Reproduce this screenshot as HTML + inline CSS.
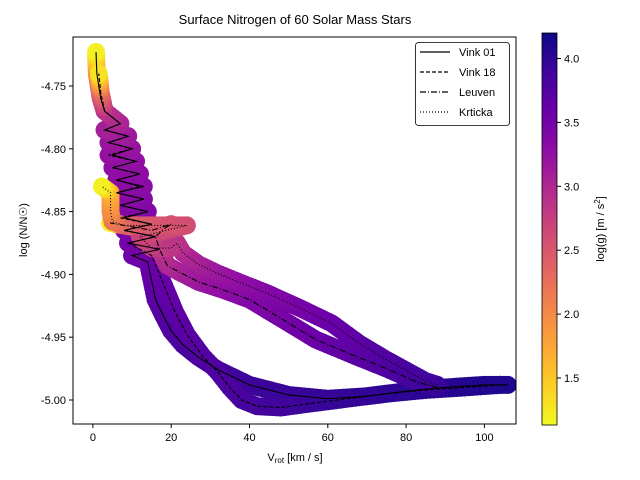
<!DOCTYPE html>
<html><head><meta charset="utf-8"><style>
html,body{margin:0;padding:0;background:#fff;}
svg{display:block;font-family:"Liberation Sans",sans-serif;}
</style></head><body>
<svg id="chart" width="640" height="480" xmlns="http://www.w3.org/2000/svg">
<defs>
<linearGradient id="cbar" x1="0" y1="1" x2="0" y2="0">
<stop offset="0" stop-color="#f0f921"/><stop offset="0.1" stop-color="#fcce25"/><stop offset="0.2" stop-color="#fca636"/><stop offset="0.3" stop-color="#f2844b"/><stop offset="0.4" stop-color="#e16462"/><stop offset="0.5" stop-color="#cc4778"/><stop offset="0.6" stop-color="#b12a90"/><stop offset="0.7" stop-color="#8f0da4"/><stop offset="0.8" stop-color="#6a00a8"/><stop offset="0.9" stop-color="#41049d"/><stop offset="1" stop-color="#0d0887"/>
</linearGradient>
<clipPath id="pclip"><rect x="73" y="37" width="443" height="387"/></clipPath>
</defs>
<text x="295" y="24" text-anchor="middle" font-size="13">Surface Nitrogen of 60 Solar Mass Stars</text>
<g id="marks" clip-path="url(#pclip)"></g>
<g id="lines" clip-path="url(#pclip)"></g>
<rect x="73" y="37" width="443" height="387" fill="none" stroke="#000" stroke-width="1"/>
<g id="axes"></g>
<text x="295" y="461" text-anchor="middle" font-size="11">V<tspan font-size="8" dy="2">rot</tspan><tspan dy="-2"> [km / s]</tspan></text>
<text transform="translate(27,230) rotate(-90)" text-anchor="middle" font-size="11">log (N/N☉)</text>
<g>
<rect x="415.5" y="42.5" width="94" height="83" rx="3" fill="#fff" stroke="#000" stroke-width="0.8"/>
<line x1="420" y1="52" x2="450" y2="52" stroke="#000" stroke-width="1.3"/>
<text x="459" y="56" font-size="11">Vink 01</text>
<line x1="420" y1="72" x2="450" y2="72" stroke="#000" stroke-width="1.3" stroke-dasharray="4,2"/>
<text x="459" y="76" font-size="11">Vink 18</text>
<line x1="420" y1="92" x2="450" y2="92" stroke="#000" stroke-width="1.3" stroke-dasharray="6,2,1,2"/>
<text x="459" y="96" font-size="11">Leuven</text>
<line x1="420" y1="112" x2="450" y2="112" stroke="#000" stroke-width="1.3" stroke-dasharray="1,2"/>
<text x="459" y="116" font-size="11">Krticka</text>
</g>
<rect x="542" y="33" width="15" height="392" fill="url(#cbar)" stroke="#000" stroke-width="0.8"/>
<g id="cbticks"></g>
<text transform="translate(604,229) rotate(-90)" text-anchor="middle" font-size="11">log(g) [m / s<tspan font-size="8" dy="-4">2</tspan><tspan dy="4">]</tspan></text>
</svg>
<script>
const xTicks=[0,20,40,60,80,100];
const yTicks=[-4.75,-4.80,-4.85,-4.90,-4.95,-5.00];
const cTicks=[1.5,2.0,2.5,3.0,3.5,4.0];
const v01V=[106,100,90,80,70,60,50,40,32,27,23,20,18,16,15,14,10,17,9,16,8,15,8,14,7,13,6,13,6,12,5,11,5,10,4,9,3,7,3,2,1.5,1,0.8];
const v01N=[-4.988,-4.988,-4.99,-4.993,-4.997,-4.999,-4.996,-4.988,-4.976,-4.966,-4.956,-4.945,-4.933,-4.92,-4.905,-4.89,-4.885,-4.88,-4.875,-4.87,-4.865,-4.86,-4.855,-4.85,-4.845,-4.84,-4.835,-4.83,-4.825,-4.82,-4.815,-4.81,-4.805,-4.8,-4.795,-4.79,-4.785,-4.78,-4.77,-4.76,-4.75,-4.74,-4.723];
const v01G=[4.1,4.08,4.05,4.02,4.0,3.98,3.95,3.92,3.88,3.85,3.82,3.78,3.75,3.7,3.65,3.6,3.55,3.53,3.5,3.48,3.46,3.44,3.42,3.4,3.38,3.36,3.34,3.32,3.3,3.3,3.28,3.26,3.24,3.22,3.2,3.15,3.1,3.05,2.9,2.6,2.3,2.0,1.2];
const v18V=[104,95,85,75,65,55,48,42,38,35,32,28,24,21,19,17,15,9,16,8,15,7,14,7,13,6,12,6,12,5,11,4,10,4,9,3,7,3,2,1.5];
const v18N=[-4.988,-4.99,-4.992,-4.995,-4.999,-5.003,-5.006,-5.005,-5.0,-4.99,-4.978,-4.965,-4.948,-4.93,-4.915,-4.9,-4.885,-4.875,-4.87,-4.865,-4.86,-4.855,-4.85,-4.845,-4.84,-4.835,-4.83,-4.825,-4.82,-4.815,-4.81,-4.805,-4.8,-4.795,-4.79,-4.785,-4.78,-4.77,-4.755,-4.74];
const v18G=[4.1,4.07,4.04,4.0,3.97,3.94,3.9,3.88,3.85,3.82,3.8,3.76,3.72,3.68,3.64,3.6,3.55,3.5,3.48,3.46,3.44,3.42,3.4,3.38,3.36,3.34,3.32,3.3,3.3,3.28,3.26,3.24,3.22,3.2,3.15,3.1,3.05,2.9,2.3,1.3];
const leuV=[88,83,75,67,57,48,40,33,27,22,19,17,16,18,20,15,10,6,4.4];
const leuN=[-4.99,-4.986,-4.975,-4.965,-4.952,-4.935,-4.92,-4.912,-4.906,-4.898,-4.893,-4.88,-4.87,-4.864,-4.86,-4.865,-4.862,-4.86,-4.859];
const leuG=[3.95,3.9,3.8,3.7,3.6,3.5,3.4,3.3,3.2,3.1,3.0,2.9,2.8,2.6,2.5,2.3,2.1,1.8,1.2];
const krtV=[88,85,75,68,61,53,44.5,38,31.7,27,23,21.5,20,15,12,24,15,8,5,4.5,4.5,2.3];
const krtN=[-4.988,-4.985,-4.968,-4.955,-4.939,-4.927,-4.915,-4.907,-4.899,-4.892,-4.883,-4.875,-4.879,-4.879,-4.87,-4.861,-4.861,-4.861,-4.858,-4.85,-4.835,-4.83];
const krtG=[3.95,3.9,3.8,3.7,3.6,3.5,3.4,3.3,3.2,3.1,3.0,2.9,2.85,2.8,2.7,2.6,2.5,2.4,2.2,2.0,1.7,1.2];

const NS="http://www.w3.org/2000/svg";
const sx=v=>92.9+v*3.915;
const sy=n=>400+(-5.0-n)*1256;
const cy=g=>378-(g-1.5)*127.8;
const stops=["#0d0887","#41049d","#6a00a8","#8f0da4","#b12a90","#cc4778","#e16462","#f2844b","#fca636","#fcce25","#f0f921"];
function hx(c){return [1,3,5].map(i=>parseInt(c.substr(i,2),16));}
function cmap(g){let t=(4.2-g)/3.07;t=Math.max(0,Math.min(1,t))*10;const i=Math.min(9,Math.floor(t)),f=t-i;const a=hx(stops[i]),b=hx(stops[i+1]);return "rgb("+a.map((x,k)=>Math.round(x+(b[k]-x)*f)).join(",")+")";}
function mk(tag,attrs,parent){const e=document.createElementNS(NS,tag);for(const k in attrs)e.setAttribute(k,attrs[k]);parent.appendChild(e);return e;}
const marks=document.getElementById('marks'),lines=document.getElementById('lines'),axes=document.getElementById('axes'),cbt=document.getElementById('cbticks');
const series=[["vink01",v01V,v01N,v01G,""],["vink18",v18V,v18N,v18G,"4,2"],["leuven",leuV,leuN,leuG,"6,2,1,2"],["krticka",krtV,krtN,krtG,"1,2"]];
series.forEach(s=>{
  const [name,V,N,G]=s;
  for(let i=0;i<V.length-1;i++){
    const steps=Math.max(1,Math.ceil(Math.hypot(sx(V[i+1])-sx(V[i]),sy(N[i+1])-sy(N[i]))/4));
    for(let j=0;j<steps;j++){const f=j/steps;
      const c=mk('circle',{cx:sx(V[i]+(V[i+1]-V[i])*f),cy:sy(N[i]+(N[i+1]-N[i])*f),r:9,fill:cmap(G[i]+(G[i+1]-G[i])*f)},marks);
      
      
    }
  }
  const last=V.length-1;
  const e=mk('circle',{cx:sx(V[last]),cy:sy(N[last]),r:9,fill:cmap(G[last])},marks);
  
  
});
series.forEach(s=>{
  const [name,V,N,G,dash]=s;
  const p=mk('polyline',{points:V.map((v,i)=>sx(v)+","+sy(N[i])).join(" "),fill:"none",stroke:"#000","stroke-width":1.1,"stroke-dasharray":dash||"none"},lines);
  
  
});
xTicks.forEach(t=>{
  mk('line',{x1:sx(t),x2:sx(t),y1:424,y2:428,stroke:"#000"},axes);
  const l=mk('text',{x:sx(t),y:441,"text-anchor":"middle","font-size":11},axes);l.textContent=t;
  
  
});
yTicks.forEach(t=>{
  mk('line',{x1:69,x2:73,y1:sy(t),y2:sy(t),stroke:"#000"},axes);
  const l=mk('text',{x:66,y:sy(t)+4,"text-anchor":"end","font-size":11},axes);l.textContent=t.toFixed(2);
  
  
});
cTicks.forEach(t=>{
  mk('line',{x1:557,x2:561,y1:cy(t),y2:cy(t),stroke:"#000"},cbt);
  const l=mk('text',{x:564,y:cy(t)+4,"font-size":11},cbt);l.textContent=t.toFixed(1);
  
  
});
</script>
</body></html>
